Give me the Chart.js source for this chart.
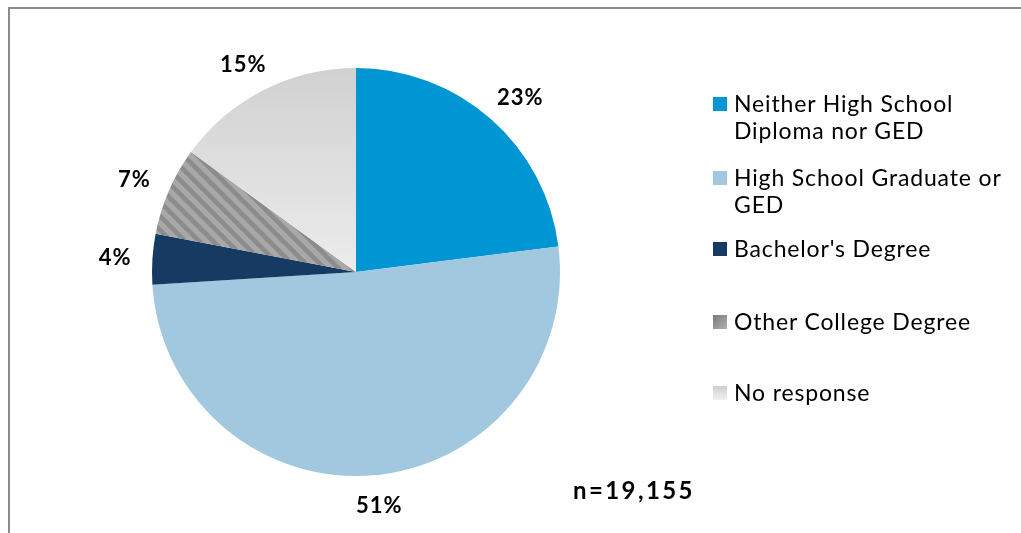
<!DOCTYPE html>
<html><head><meta charset="utf-8">
<script src="https://cdn.jsdelivr.net/npm/chart.js@4"></script>
<style>
html,body{margin:0;padding:0;background:#fff;}
#wrap{position:relative;width:1021px;height:533px;overflow:hidden;background:#fff;}
#frame{position:absolute;left:8px;top:7px;width:1030px;height:560px;border-left:2px solid #8a8a8a;border-top:2px solid #8a8a8a;}
#c{position:absolute;left:0;top:0;}
.leg{position:absolute;left:713px;font-family:Lato,"Open Sans",sans-serif;font-size:23px;letter-spacing:0.85px;line-height:27px;color:#000;white-space:nowrap;}
.sw{position:absolute;left:0;top:7px;width:14px;height:14px;}
.tx{position:absolute;left:21px;top:0;}
#note{position:absolute;left:573px;top:474px;font-family:Lato,sans-serif;font-weight:bold;font-size:24px;letter-spacing:2.4px;line-height:32px;color:#000;white-space:nowrap;}
</style></head>
<body>
<div id="wrap">
  <div id="frame"></div>
  <canvas id="c" width="1021" height="533"></canvas>
  <div id="legend"></div>
  <div id="note"></div>
</div>
<script>
// ---- data ----
const categories = [
  ["Neither High School", "Diploma nor GED"],
  ["High School Graduate or", "GED"],
  ["Bachelor's Degree"],
  ["Other College Degree"],
  ["No response"]
];
const shares = [23, 51, 4, 7, 15];
const valueLabels = ["23%", "51%", "4%", "7%", "15%"];
const sampleNote = "n=19,155";

// ---- styles ----
const solidColors = ["#0096D4", "#A1C8DF", "#163A62", null, null];
const legendTops = [90, 164, 235, 308, 379];

function stripePattern(ctx) {
  const s = 14;
  const c = document.createElement('canvas');
  c.width = s; c.height = s;
  const g = c.getContext('2d');
  g.fillStyle = '#a8a8a8';
  g.fillRect(0, 0, s, s);
  g.strokeStyle = '#8c8c8c';
  g.lineWidth = 4.5;
  for (let k = -2 * s; k <= 2 * s; k += s) {
    g.beginPath(); g.moveTo(-s, k - s); g.lineTo(2 * s, k + 2 * s); g.stroke();
  }
  return ctx.createPattern(c, 'repeat');
}

let stripes = null;
function sliceColor(c) {
  const i = c.dataIndex;
  if (solidColors[i]) return solidColors[i];
  const chart = c.chart;
  const area = chart.chartArea;
  if (!area) return '#bbb';
  if (i === 3) {
    if (!stripes) stripes = stripePattern(chart.ctx);
    return stripes;
  }
  const cy = (area.top + area.bottom) / 2;
  const gr = chart.ctx.createLinearGradient(0, area.top, 0, cy);
  gr.addColorStop(0, '#d1d1d1');
  gr.addColorStop(1, '#ececec');
  return gr;
}

const labelPlugin = {
  id: 'outsideLabels',
  afterDatasetsDraw(chart) {
    const ctx = chart.ctx;
    const meta = chart.getDatasetMeta(0);
    ctx.save();
    ctx.font = 'bold 22px Lato, sans-serif';
    try { ctx.letterSpacing = '1px'; } catch (e) {}
    ctx.fillStyle = '#000';
    ctx.textAlign = 'center';
    ctx.textBaseline = 'middle';
    const gap = 21, h = 18;
    meta.data.forEach((arc, i) => {
      const p = arc.getProps(['x', 'y', 'startAngle', 'endAngle', 'outerRadius'], true);
      const mid = (p.startAngle + p.endAngle) / 2;
      const ux = Math.cos(mid), uy = Math.sin(mid);
      const w = ctx.measureText(valueLabels[i]).width;
      const r = p.outerRadius + gap;
      const x = p.x + ux * r + ux * w / 2;
      const y = p.y + uy * r + uy * h / 2;
      ctx.fillText(valueLabels[i], x, y + 1);
    });
    ctx.restore();
  }
};

new Chart(document.getElementById('c'), {
  type: 'pie',
  data: {
    labels: categories,
    datasets: [{
      data: shares,
      backgroundColor: sliceColor,
      borderWidth: 0,
      hoverOffset: 0
    }]
  },
  options: {
    responsive: false,
    animation: false,
    devicePixelRatio: 1,
    layout: { padding: { left: 152, right: 461, top: 68, bottom: 57 } },
    plugins: { legend: { display: false }, tooltip: { enabled: false } }
  },
  plugins: [labelPlugin]
});

// ---- legend (HTML) ----
const swatchCss = [
  'background:' + solidColors[0],
  'background:' + solidColors[1],
  'background:' + solidColors[2],
  'background:linear-gradient(135deg,#7a7a7a,#b0b0b0)',
  'background:linear-gradient(#cfcfcf,#f0f0f0)'
];
const legend = document.getElementById('legend');
categories.forEach((lines, i) => {
  const d = document.createElement('div');
  d.className = 'leg';
  d.style.top = legendTops[i] + 'px';
  const sw = document.createElement('div');
  sw.className = 'sw';
  sw.style.cssText = swatchCss[i];
  const tx = document.createElement('div');
  tx.className = 'tx';
  tx.innerHTML = lines.join('<br>');
  d.appendChild(sw); d.appendChild(tx);
  legend.appendChild(d);
});
document.getElementById('note').textContent = sampleNote;
</script>
</body></html>
